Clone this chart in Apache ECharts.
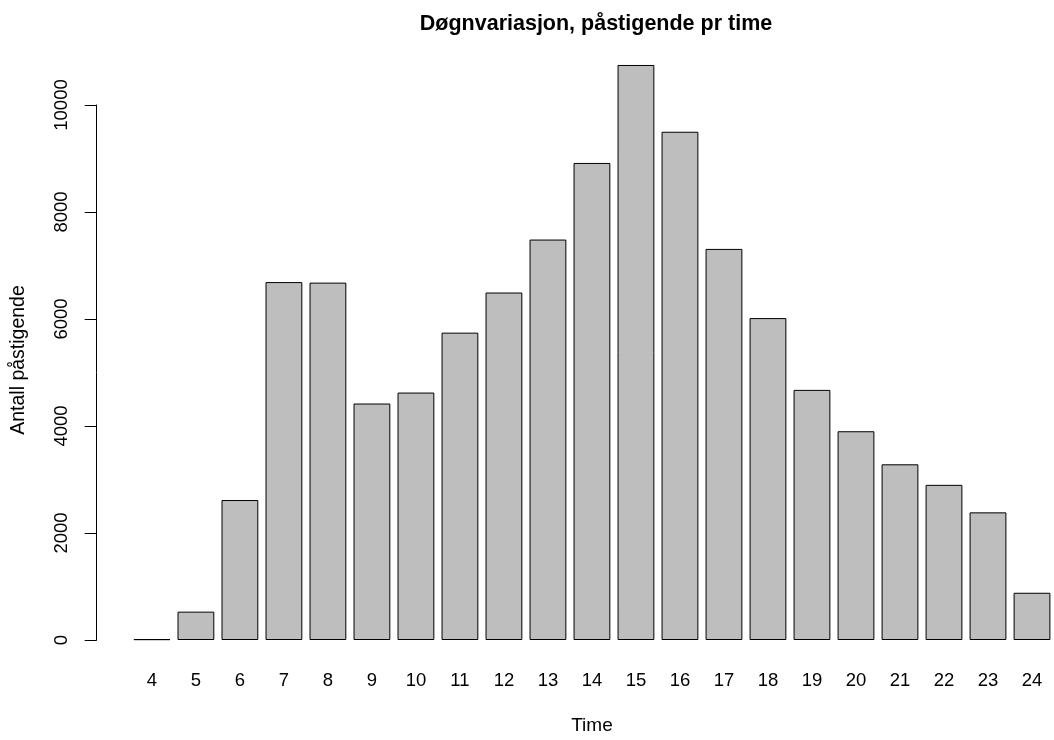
<!DOCTYPE html>
<html>
<head>
<meta charset="utf-8">
<script src="https://cdn.jsdelivr.net/npm/echarts@6/dist/echarts.min.js"></script>
<style>
  html, body { margin: 0; padding: 0; background: #ffffff; }
  #chart { width: 1054px; height: 740px; }
</style>
</head>
<body>
<div id="chart"></div>
<script>
// Hour of day (category axis)
const hours = ['4', '5', '6', '7', '8', '9', '10', '11', '12', '13', '14',
               '15', '16', '17', '18', '19', '20', '21', '22', '23', '24'];
// Boardings per hour
const boardings = [15, 530, 2616, 6690, 6680, 4420, 4625, 5745, 6495, 7485, 8917,
                   10748, 9500, 7310, 6017, 4675, 3902, 3284, 2900, 2386, 883];
// Value axis ticks
const yMin = 0;
const yMax = 10000;
const yStep = 2000;

const FONT = "'Liberation Sans', Arial, Helvetica, sans-serif";

const chart = echarts.init(document.getElementById('chart'), null, { renderer: 'canvas' });

chart.setOption({
  animation: false,
  backgroundColor: '#ffffff',
  title: {
    text: 'Døgnvariasjon, påstigende pr time',
    left: 591,
    textAlign: 'center',
    top: 8,
    textStyle: { fontFamily: FONT, fontSize: 21.5, fontWeight: 'bold', color: '#000' }
  },
  grid: { left: 129.9, right: -3.3, top: 105, bottom: 95.7, containLabel: false },
  xAxis: {
    type: 'category',
    data: hours,
    name: 'Time',
    nameLocation: 'middle',
    nameGap: 76,
    nameTextStyle: { fontFamily: FONT, fontSize: 19, color: '#000' },
    axisLine: { show: false },
    axisTick: { show: false },
    axisLabel: { margin: 31, fontFamily: FONT, fontSize: 18.5, color: '#000' }
  },
  yAxis: {
    type: 'value',
    min: yMin,
    max: yMax,
    interval: yStep,
    offset: 33.2,
    splitLine: { show: false },
    axisLine: { show: true, lineStyle: { color: '#000', width: 1 } },
    axisTick: { show: true, length: 12, lineStyle: { color: '#000', width: 1 } },
    axisLabel: {
      rotate: 90, margin: 25, fontFamily: FONT, fontSize: 18.5, color: '#000',
      formatter: (v) => String(v)
    }
  },
  graphic: [{
    type: 'text',
    x: 19,
    y: 360,
    rotation: Math.PI / 2,
    style: {
      text: 'Antall påstigende',
      fontFamily: FONT,
      fontSize: 19.5,
      fill: '#000',
      align: 'center',
      verticalAlign: 'middle'
    }
  }],
  series: [{
    type: 'bar',
    data: boardings,
    barWidth: 36.8,
    clip: false,
    itemStyle: { color: '#bebebe', borderColor: '#000', borderWidth: 1 }
  }]
});
</script>
</body>
</html>
